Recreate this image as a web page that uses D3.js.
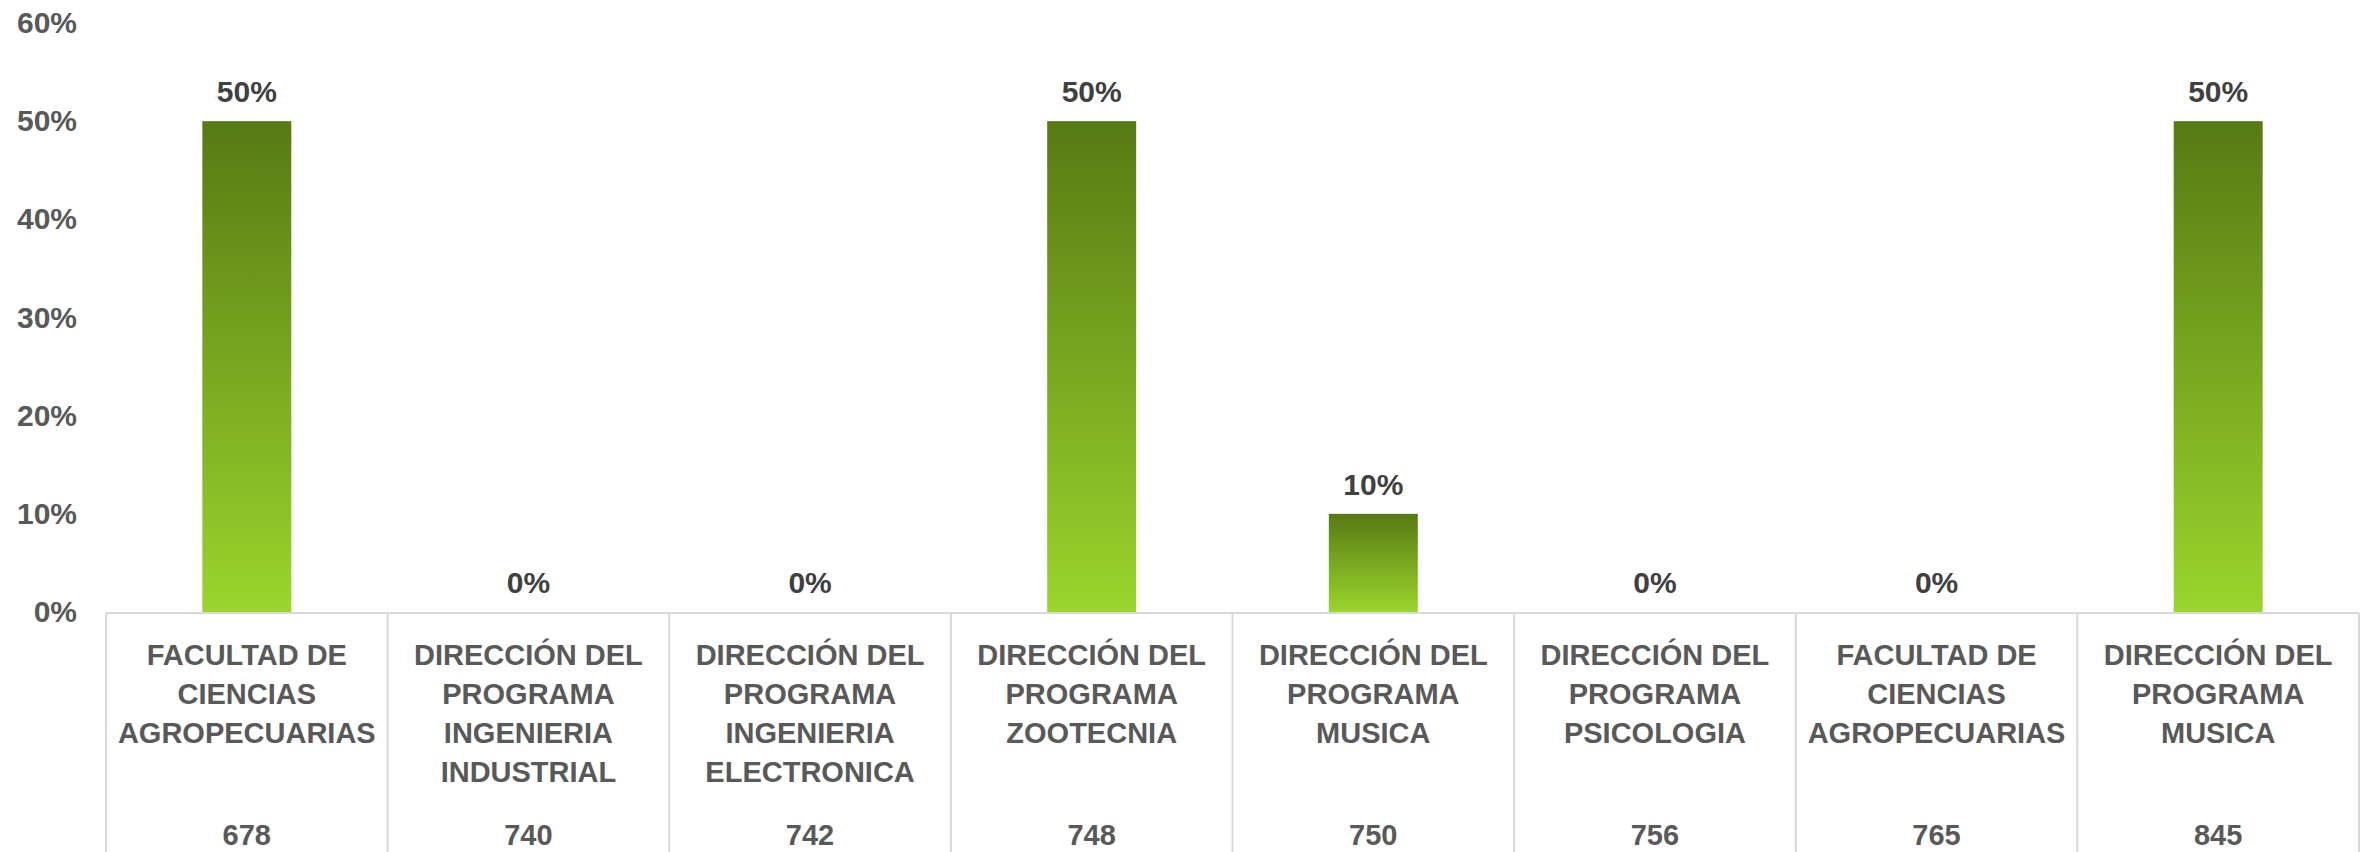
<!DOCTYPE html>
<html>
<head>
<meta charset="utf-8">
<script src="https://cdn.jsdelivr.net/npm/d3@7"></script>
<style>
  html, body { margin: 0; padding: 0; background: #ffffff; }
  svg { display: block; }
  text { font-family: "Liberation Sans", Arial, sans-serif; font-weight: bold; }
</style>
</head>
<body>
<svg id="chart" width="2363" height="852"></svg>
<script>
const categories = [
  "FACULTAD DE CIENCIAS AGROPECUARIAS",
  "DIRECCIÓN DEL PROGRAMA INGENIERIA INDUSTRIAL",
  "DIRECCIÓN DEL PROGRAMA INGENIERIA ELECTRONICA",
  "DIRECCIÓN DEL PROGRAMA ZOOTECNIA",
  "DIRECCIÓN DEL PROGRAMA MUSICA",
  "DIRECCIÓN DEL PROGRAMA PSICOLOGIA",
  "FACULTAD DE CIENCIAS AGROPECUARIAS",
  "DIRECCIÓN DEL PROGRAMA MUSICA"
];
const codes = ["678", "740", "742", "748", "750", "756", "765", "845"];
const values = [0.5, 0, 0, 0.5, 0.1, 0, 0, 0.5];
const yTicks = [0, 0.1, 0.2, 0.3, 0.4, 0.5, 0.6];

const svg = d3.select("#chart");
const plotLeft = 106, plotRight = 2359, plotTop = 23, plotBottom = 612;

const x = d3.scaleBand().domain(d3.range(categories.length)).range([plotLeft, plotRight]).paddingInner(0).paddingOuter(0);
const y = d3.scaleLinear().domain([0, 0.6]).range([plotBottom, plotTop]);
const barW = x.bandwidth() * 0.316;
const pct = d3.format(".0%");

// gradient
const defs = svg.append("defs");
const grad = defs.append("linearGradient").attr("id", "barGrad")
  .attr("x1", 0).attr("y1", 0).attr("x2", 0).attr("y2", 1);
grad.append("stop").attr("offset", "0%").attr("stop-color", "#577a14");
grad.append("stop").attr("offset", "100%").attr("stop-color", "#9bd52d");

// y axis labels
const yAxis = d3.axisLeft(y).tickValues(yTicks).tickFormat(pct).tickSize(0).tickPadding(0);
const yg = svg.append("g").attr("transform", `translate(77,0)`).call(yAxis);
yg.select(".domain").remove();
yg.selectAll("text")
  .attr("fill", "#595959")
  .style("font-size", "30px")
  .style("font-family", "'Liberation Sans', Arial, sans-serif")
  .style("font-weight", "bold");

// bars
svg.append("g").selectAll("rect").data(values).join("rect")
  .attr("x", (d, i) => x(i) + (x.bandwidth() - barW) / 2)
  .attr("y", d => y(d))
  .attr("width", barW)
  .attr("height", d => plotBottom - y(d))
  .attr("fill", "url(#barGrad)");

// data labels
svg.append("g").selectAll("text").data(values).join("text")
  .attr("x", (d, i) => x(i) + x.bandwidth() / 2)
  .attr("y", d => y(d) - 19)
  .attr("text-anchor", "middle")
  .attr("fill", "#404040")
  .style("font-size", "30px")
  .text(d => pct(d));

// category axis lines
const grid = svg.append("g").attr("stroke", "#d9d9d9").attr("stroke-width", 2);
grid.append("line").attr("x1", plotLeft).attr("x2", plotRight).attr("y1", plotBottom + 1).attr("y2", plotBottom + 1);
const seps = d3.range(categories.length + 1).map(i => i < categories.length ? x(i) : plotRight);
grid.selectAll("line.sep").data(seps).join("line").attr("class", "sep")
  .attr("x1", d => d).attr("x2", d => d)
  .attr("y1", plotBottom + 1).attr("y2", 852);

// category labels (wrapped)
function wrapLines(textSel, str, maxW) {
  const words = str.split(" ");
  const lines = [];
  let cur = "";
  const probe = textSel.append("tspan");
  words.forEach(w => {
    const test = cur ? cur + " " + w : w;
    probe.text(test);
    if (probe.node().getComputedTextLength() > maxW && cur) {
      lines.push(cur);
      cur = w;
    } else {
      cur = test;
    }
  });
  if (cur) lines.push(cur);
  probe.remove();
  return lines;
}

const catG = svg.append("g");
categories.forEach((c, i) => {
  const cx = x(i) + x.bandwidth() / 2;
  const t = catG.append("text")
    .attr("text-anchor", "middle")
    .attr("fill", "#595959")
    .style("font-size", "29px");
  const lines = wrapLines(t, c, 268);
  lines.forEach((ln, k) => {
    t.append("tspan").attr("x", cx).attr("y", 665 + k * 39).text(ln);
  });
  catG.append("text")
    .attr("x", cx).attr("y", 845)
    .attr("text-anchor", "middle")
    .attr("fill", "#595959")
    .style("font-size", "29px")
    .text(codes[i]);
});
</script>
</body>
</html>
